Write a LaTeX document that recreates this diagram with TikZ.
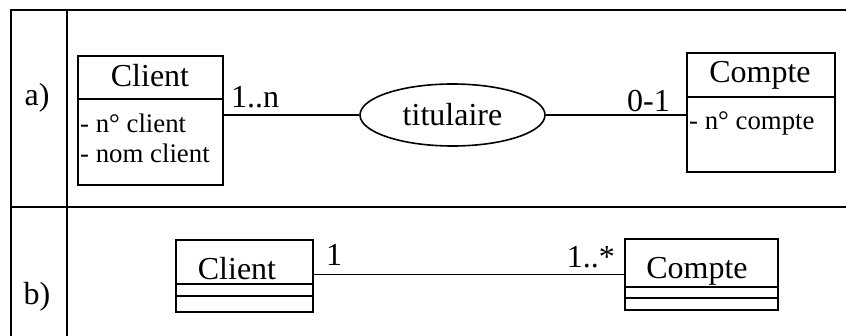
\documentclass[tikz,border=0pt]{standalone}
\usepackage{fontspec}
\setmainfont{Liberation Serif}
\usetikzlibrary{shapes.geometric}
\tikzset{
  tbl/.style={line width=2pt},
  cls/.style={draw, rectangle, line width=1.6pt, inner sep=0pt},
  sep/.style={line width=1.6pt},
  conn/.style={line width=1.3pt},
  big/.style={font=\fontsize{32}{32}\selectfont, inner sep=0pt},
  small/.style={font=\fontsize{26.8}{26.8}\selectfont, inner sep=0pt},
}
\begin{document}
\begin{tikzpicture}[x=1pt,y=-1pt]
\useasboundingbox (0,0) rectangle (846,336);
% table
\coordinate (tl) at (11,10);
\coordinate (tr) at (846,10);
\coordinate (bl) at (11,336);
\coordinate (il) at (67,10);
\coordinate (ib) at (67,336);
\coordinate (dl) at (11,207.5);
\coordinate (dr) at (846,207.5);
\draw[tbl] (bl) -- (tl) -- (tr);
\draw[tbl] (il) -- (ib);
\draw[tbl] (dl) -- (dr);
\node[big, anchor=base] (la) at (37,106) {a)};
\node[big, anchor=base] (lb) at (37,305) {b)};
% part a
\node[cls, minimum width=145pt, minimum height=129pt] (clientA) at (150.5,120.5) {};
\draw[sep] (clientA.west |- 0,99) -- (clientA.east |- 0,99);
\node[big, anchor=base] (clientAt) at (150,87) {Client};
\node[small, anchor=base west] (clientAa1) at (80,133) {- n° client};
\node[small, anchor=base west] (clientAa2) at (80,163) {- nom client};
\node[cls, minimum width=148pt, minimum height=119pt] (compteA) at (761,112.5) {};
\draw[sep] (compteA.west |- 0,97) -- (compteA.east |- 0,97);
\node[big, anchor=base] (compteAt) at (760,83) {Compte};
\node[small, anchor=base west] (compteAa1) at (689,130) {- n° compte};
\node[ellipse, draw, line width=1.6pt, minimum width=185pt, minimum height=62pt, inner sep=0pt, font=\fontsize{32}{32}\selectfont] (tit) at (452.5,115) {titulaire};
\draw[conn] (clientA.east |- tit.west) -- (tit.west);
\draw[conn] (tit.east) -- (compteA.west |- tit.east);
\node[big, anchor=base west] (m1) at (231,108) {1..n};
\node[big, anchor=base east] (m2) at (670,112) {0-1};
% part b
\node[cls, minimum width=137pt, minimum height=72pt] (clientB) at (244.5,276) {};
\draw[sep] (clientB.west |- 0,284) -- (clientB.east |- 0,284);
\draw[sep] (clientB.west |- 0,296) -- (clientB.east |- 0,296);
\node[big, anchor=base] (clientBt) at (237,280) {Client};
\node[cls, minimum width=153pt, minimum height=71pt] (compteB) at (701.5,274.5) {};
\draw[sep] (compteB.west |- 0,287) -- (compteB.east |- 0,287);
\draw[sep] (compteB.west |- 0,298) -- (compteB.east |- 0,298);
\node[big, anchor=base] (compteBt) at (697,279) {Compte};
\draw[conn] (clientB.east |- compteB.west) -- (compteB.west);
\node[big, anchor=base west] (m3) at (326,266) {1};
\node[big, anchor=base east] (m4) at (615,268) {1..*};
\end{tikzpicture}
\end{document}
